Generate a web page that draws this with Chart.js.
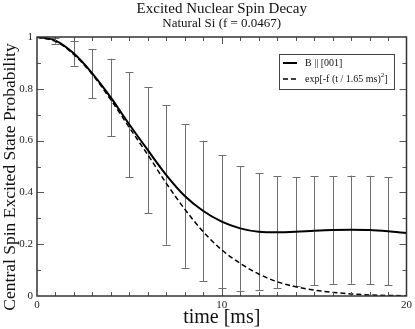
<!DOCTYPE html>
<html>
<head>
<meta charset="utf-8">
<script src="https://cdn.jsdelivr.net/npm/chart.js@4/dist/chart.umd.min.js"></script>
<style>
html,body{margin:0;padding:0;background:#fff;}
canvas{display:block;}
</style>
</head>
<body>
<canvas id="c" width="415" height="329"></canvas>
<script>
// ---- data ----
const times = [0,1,2,3,4,5,6,7,8,9,10,11,12,13,14,15,16,17,18,19,20];
const simulated = [1.000,0.986,0.936,0.859,0.766,0.662,0.563,0.467,0.386,0.328,0.287,0.261,0.248,0.246,0.248,0.252,0.255,0.256,0.255,0.250,0.243];
const gaussianFit = [1.000,0.983,0.932,0.855,0.757,0.650,0.545,0.435,0.335,0.248,0.178,0.126,0.085,0.055,0.036,0.023,0.014,0.008,0.004,0.002,0.001];
const errTimes = [1,2,3,4,5,6,7,8,9,10,11,12,13,14,15,16,17,18,19];
const errHalf = [0.012,0.047,0.095,0.150,0.203,0.243,0.269,0.277,0.271,0.258,0.241,0.226,0.217,0.211,0.210,0.208,0.209,0.209,0.208];
const xTickLabels = [0,10,20];
const yTickLabels = [0,0.2,0.4,0.6,0.8,1];
const titleText = 'Excited Nuclear Spin Decay';
const subtitleText = 'Natural Si (f = 0.0467)';
const xTitle = 'time [ms]';
const yTitle = 'Central Spin Excited State Probability';
const legendLabels = ['B || [001]', 'exp[-f (t / 1.65 ms)', '2', ']'];

const SERIF = '"Liberation Serif","DejaVu Serif",serif';

const decor = {
  id: 'decor',
  beforeDatasetsDraw(chart) {
    const ctx = chart.ctx, xs = chart.scales.x, ys = chart.scales.y;
    ctx.save();
    ctx.strokeStyle = '#6e6e6e';
    ctx.lineWidth = 1;
    errTimes.forEach((t, i) => {
      const idx = times.indexOf(t);
      const c = simulated[idx];
      const px = Math.round(xs.getPixelForValue(t)) + 0.5;
      const top = ys.getPixelForValue(c + errHalf[i]);
      const bot = ys.getPixelForValue(c - errHalf[i]);
      ctx.beginPath();
      ctx.moveTo(px, top); ctx.lineTo(px, bot);
      ctx.moveTo(px - 4, Math.round(top) + 0.5); ctx.lineTo(px + 4, Math.round(top) + 0.5);
      ctx.moveTo(px - 4, Math.round(bot) + 0.5); ctx.lineTo(px + 4, Math.round(bot) + 0.5);
      ctx.stroke();
    });
    ctx.restore();
  },
  afterDraw(chart) {
    const ctx = chart.ctx, xs = chart.scales.x, ys = chart.scales.y;
    const a = chart.chartArea;
    ctx.save();
    // ticks (inward, all four sides)
    ctx.strokeStyle = '#555';
    ctx.lineWidth = 1;
    ctx.beginPath();
    for (let t = 1; t < 20; t++) {
      const px = Math.round(xs.getPixelForValue(t)) + 0.5;
      const len = (t % 10 === 0) ? 7 : 4;
      ctx.moveTo(px, a.bottom); ctx.lineTo(px, a.bottom - len);
      ctx.moveTo(px, a.top); ctx.lineTo(px, a.top + len);
    }
    for (let k = 1; k < 10; k++) {
      const v = k / 10;
      const py = Math.round(ys.getPixelForValue(v)) + 0.5;
      const len = (k % 2 === 0) ? 7 : 4;
      ctx.moveTo(a.left, py); ctx.lineTo(a.left + len, py);
      ctx.moveTo(a.right, py); ctx.lineTo(a.right - len, py);
    }
    ctx.stroke();
    // frame
    ctx.strokeStyle = '#333';
    ctx.lineWidth = 1.5;
    ctx.strokeRect(a.left, a.top, a.right - a.left, a.bottom - a.top);

    // titles
    const cx = (a.left + a.right) / 2;
    ctx.fillStyle = '#111';
    ctx.textAlign = 'center';
    ctx.textBaseline = 'middle';
    ctx.font = '15px ' + SERIF;
    ctx.fillText(titleText, cx, 9.5);
    ctx.font = '13px ' + SERIF;
    ctx.fillText(subtitleText, cx, 23.5);
    ctx.font = '20px ' + SERIF;
    ctx.fillText(xTitle, cx, 318);
    ctx.save();
    ctx.translate(10, 177);
    ctx.rotate(-Math.PI / 2);
    ctx.font = '17.5px ' + SERIF;
    ctx.fillText(yTitle, 0, 0);
    ctx.restore();

    // legend
    const lx = 279, ly = 54, lw = 115, lh = 35;
    ctx.fillStyle = '#fff';
    ctx.fillRect(lx, ly, lw, lh);
    ctx.strokeStyle = '#444';
    ctx.lineWidth = 1;
    ctx.strokeRect(lx + 0.5, ly + 0.5, lw, lh);
    ctx.strokeStyle = '#000';
    ctx.lineWidth = 2;
    ctx.beginPath(); ctx.moveTo(283, 63); ctx.lineTo(297, 63); ctx.stroke();
    ctx.lineWidth = 1.5;
    ctx.setLineDash([5, 3]);
    ctx.beginPath(); ctx.moveTo(283, 79); ctx.lineTo(298, 79); ctx.stroke();
    ctx.setLineDash([]);
    ctx.fillStyle = '#111';
    ctx.textAlign = 'left';
    ctx.textBaseline = 'middle';
    ctx.font = '10px ' + SERIF;
    ctx.fillText(legendLabels[0], 305, 63);
    let x0 = 305;
    ctx.fillText(legendLabels[1], x0, 79);
    x0 += ctx.measureText(legendLabels[1]).width;
    ctx.font = '7px ' + SERIF;
    ctx.fillText(legendLabels[2], x0, 75);
    x0 += ctx.measureText(legendLabels[2]).width;
    ctx.font = '10px ' + SERIF;
    ctx.fillText(legendLabels[3], x0, 79);
    ctx.restore();
  }
};

new Chart(document.getElementById('c'), {
  type: 'line',
  data: {
    datasets: [
      {
        label: 'B || [001]',
        data: times.map((t, i) => ({x: t, y: simulated[i]})),
        borderColor: '#000',
        borderWidth: 2,
        pointRadius: 0,
        cubicInterpolationMode: 'monotone',
        fill: false
      },
      {
        label: 'exp[-f (t / 1.65 ms)^2]',
        data: times.map((t, i) => ({x: t, y: gaussianFit[i]})),
        borderColor: '#000',
        borderWidth: 1.5,
        borderDash: [5, 3],
        pointRadius: 0,
        cubicInterpolationMode: 'monotone',
        fill: false
      }
    ]
  },
  options: {
    responsive: false,
    animation: false,
    devicePixelRatio: 1,
    layout: {padding: {top: 37, right: 6, left: 0, bottom: 0}},
    plugins: {legend: {display: false}, tooltip: {enabled: false}},
    scales: {
      x: {
        type: 'linear', min: 0, max: 20,
        afterFit(s) { s.height = 33; },
        afterBuildTicks(s) { s.ticks = xTickLabels.map(v => ({value: v})); },
        grid: {display: false, drawTicks: false},
        border: {display: false},
        ticks: {padding: 3, color: '#222', font: {family: SERIF, size: 11}, maxRotation: 0, autoSkip: false,
                callback: v => String(+Number(v).toFixed(1))}
      },
      y: {
        type: 'linear', min: 0, max: 1,
        afterFit(s) { s.width = 37; },
        afterBuildTicks(s) { s.ticks = yTickLabels.map(v => ({value: v})); },
        grid: {display: false, drawTicks: false},
        border: {display: false},
        ticks: {padding: 4, color: '#222', font: {family: SERIF, size: 11}, autoSkip: false,
                callback: v => String(+Number(v).toFixed(1))}
      }
    }
  },
  plugins: [decor]
});
</script>
</body>
</html>
